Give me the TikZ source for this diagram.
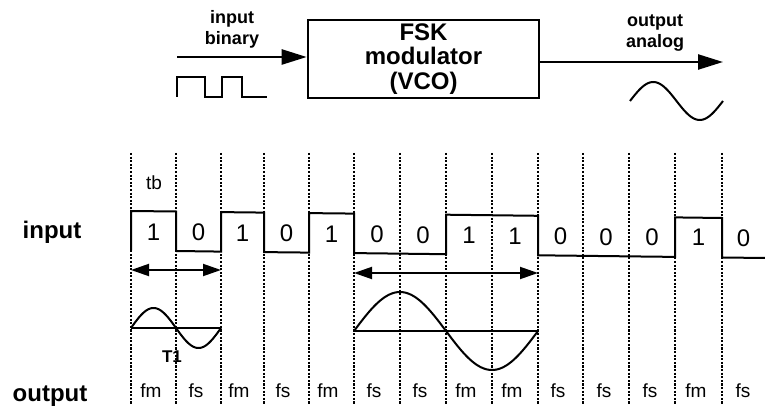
\documentclass[tikz,border=0pt]{standalone}
\usepackage{fontspec}
\setmainfont{Liberation Sans}
\usetikzlibrary{arrows.meta}
\begin{document}
\begin{tikzpicture}[x=1pt,y=-1pt,
  dotline/.style={line width=2.3pt, dash pattern=on 2.1pt off 1.5pt, black},
  sig/.style={line width=2pt, line join=miter},
  bit/.style={font=\fontsize{24}{24}\selectfont, inner sep=0pt},
  flab/.style={font=\fontsize{19}{19}\selectfont, inner sep=0pt},
  biglab/.style={font=\bfseries\fontsize{24}{24}\selectfont, inner sep=0pt},
  smalllab/.style={font=\bfseries\fontsize{18}{21}\selectfont, align=center, inner sep=0pt},
  bigarrow/.style={line width=2.4pt, -{Triangle[length=25pt,width=15pt]}},
  dblarrow/.style={line width=1.9pt, {Triangle[length=18pt,width=12pt]}-{Triangle[length=18pt,width=12pt]}},
]
\useasboundingbox (0,0) rectangle (765,411);

% ---------- top block diagram ----------
\node[draw, line width=2.6pt, minimum width=231pt, minimum height=78pt, align=center,
      font=\bfseries\fontsize{24}{24.5}\selectfont, inner sep=0pt] (box) at (423.5,59) {FSK\\modulator\\(VCO)};
\node[smalllab] (inbin) at (232,29) {input\\binary};
\node[smalllab] (outan) at (655,33) {output\\analog};
\coordinate (inA) at (177,57);
\draw[bigarrow] (inA) -- (inA -| box.west);
\coordinate (outA) at (723,62);
\draw[bigarrow] (outA -| box.east) -- (outA);
\draw[line width=2.2pt] (177,97) -- (177,77) -- (205,77) -- (205,97) -- (222,97) -- (222,77) -- (242,77) -- (242,97) -- (267,97);
\draw[line width=2pt] plot[domain=0:93, samples=80, smooth] ({630+\x},{101-19*sin((\x/93)*360)});

% ---------- timing grid ----------
\foreach \x [count=\i] in {131,176,221,264,309,354,400,446,492,538,583,629,675,722} {
  \coordinate (t\i) at (\x,153);
  \coordinate (b\i) at (\x,405);
  \draw[dotline] (t\i) -- (b\i);
}

% ---------- input signal ----------
\draw[sig] (131,250.5) -- (131,211) -- (176,211.5) -- (176,251) -- (221,251.6) -- (221,212.1)
  -- (264,212.6) -- (264,252.1) -- (309,252.6) -- (309,213.1) -- (354,213.6) -- (354,253.1)
  -- (446,254.2) -- (446,214.7) -- (538,215.8) -- (538,255.3) -- (675,256.9) -- (675,217.4)
  -- (722,218) -- (722,257.5) -- (765,258);

\foreach \x/\b [count=\i] in {153.5/1,198.5/0,242.5/1,286.5/0,331.5/1,377/0,423/0,469/1,515/1,560.5/0,606/0,652/0,698.5/1,743.5/0} {
  \node[bit] (bit\i) at (\x,{232+0.01*(\x-131)}) {\b};
}

\node[flab] (tb) at (154,183) {tb};
\node[biglab] (inlab) at (52,232) {input};
\node[biglab] (outlab) at (50,396) {output};

% ---------- bit-period arrows ----------
\coordinate (a1l) at (131,270);
\coordinate (a1r) at (221,270);
\draw[dblarrow] (a1l) -- (a1r);
\coordinate (a2l) at (354,273);
\coordinate (a2r) at (538,273);
\draw[dblarrow] (a2l) -- (a2r);

% ---------- sine waves ----------
\draw[sig] (131,328) -- (221,328);
\draw[sig] plot[domain=0:90, samples=80, smooth] ({131+\x},{328-20*sin(4*\x)});
\draw[sig] (354,331) -- (538,331);
\draw[sig] plot[domain=0:184, samples=120, smooth] ({354+\x},{331-39*sin((\x/184)*360)});
\node[font=\bfseries\fontsize{17}{17}\selectfont, inner sep=0pt] (T1) at (172,357) {T1};

% ---------- output labels ----------
\foreach \x/\f [count=\i] in {151/fm,196/fs,239/fm,283/fs,328/fm,374/fs,420/fs,466/fm,512/fm,558/fs,604/fs,650/fs,696/fm,743/fs} {
  \node[flab] (out\i) at (\x,391) {\f};
}
\end{tikzpicture}
\end{document}
